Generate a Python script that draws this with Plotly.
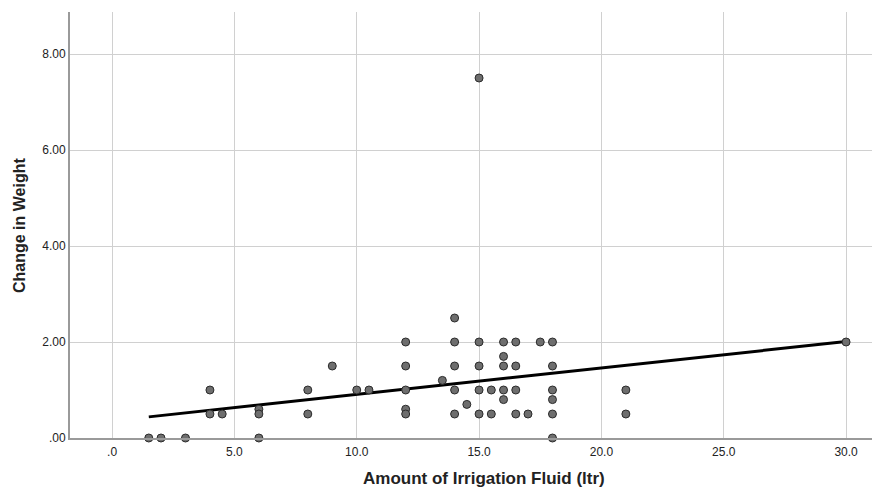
import plotly.graph_objects as go

# Scatter data: Amount of Irrigation Fluid (ltr) vs Change in Weight
fluid = [1.5, 2.0, 3.0, 4.0, 4.0, 4.5, 6.0, 6.0, 6.0, 8.0, 8.0,
         9.0, 10.0, 10.5, 12.0, 12.0, 12.0, 12.0, 12.0, 13.5,
         14.0, 14.0, 14.0, 14.0, 14.0, 14.5,
         15.0, 15.0, 15.0, 15.0, 15.0, 15.5, 15.5,
         16.0, 16.0, 16.0, 16.0, 16.0, 16.5, 16.5, 16.5, 16.5,
         17.0, 17.5, 18.0, 18.0, 18.0, 18.0, 18.0, 18.0,
         21.0, 21.0, 30.0]
weight = [0.0, 0.0, 0.0, 1.0, 0.5, 0.5, 0.6, 0.5, 0.0, 1.0, 0.5,
          1.5, 1.0, 1.0, 2.0, 1.5, 1.0, 0.6, 0.5, 1.2,
          2.5, 2.0, 1.5, 1.0, 0.5, 0.7,
          7.5, 2.0, 1.5, 1.0, 0.5, 1.0, 0.5,
          2.0, 1.7, 1.5, 1.0, 0.8, 2.0, 1.5, 1.0, 0.5,
          0.5, 2.0, 2.0, 1.5, 1.0, 0.8, 0.5, 0.0,
          1.0, 0.5, 2.0]

# Fit line endpoints
fit_x = [1.5, 30.0]
fit_y = [0.44, 2.01]

x_tickvals = [0, 5, 10, 15, 20, 25, 30]
x_ticktext = [".0", "5.0", "10.0", "15.0", "20.0", "25.0", "30.0"]
y_tickvals = [0, 2, 4, 6, 8]
y_ticktext = [".00", "2.00", "4.00", "6.00", "8.00"]

x_title = "Amount of Irrigation Fluid (ltr)"
y_title = "Change in Weight"

FONT = "Arial, Liberation Sans, sans-serif"

fig = go.Figure()
fig.add_trace(go.Scatter(
    x=fit_x, y=fit_y, mode="lines",
    line=dict(color="black", width=3),
    showlegend=False, hoverinfo="skip", cliponaxis=False))
fig.add_trace(go.Scatter(
    x=fluid, y=weight, mode="markers",
    marker=dict(size=8, color="#6e6e6e", line=dict(color="#2b2b2b", width=1)),
    showlegend=False, cliponaxis=False))

fig.update_layout(
    width=873, height=488,
    margin=dict(l=70, r=1, t=12, b=50),
    paper_bgcolor="white", plot_bgcolor="white",
    font=dict(family=FONT, size=12, color="#222222"),
    xaxis=dict(
        range=[-1.72, 31.06],
        tickvals=x_tickvals, ticktext=x_ticktext,
        showgrid=True, gridcolor="#d0d0d0", gridwidth=1,
        showline=True, linecolor="#9a9a9a", linewidth=2,
        zeroline=False, ticks="outside", ticklen=2, tickcolor="rgba(0,0,0,0)",
        tickfont=dict(size=12, family=FONT, color="#222222"),
    ),
    yaxis=dict(
        range=[0, 8.875],
        tickvals=y_tickvals, ticktext=y_ticktext,
        showgrid=True, gridcolor="#d0d0d0", gridwidth=1,
        showline=True, linecolor="#9a9a9a", linewidth=2,
        zeroline=False, ticks="", ticklen=0,
        tickfont=dict(size=12, family=FONT, color="#222222"),
    ),
    annotations=[
        dict(text="<b>" + x_title + "</b>", xref="paper", yref="paper",
             x=0.516, y=-0.094, xanchor="center", yanchor="middle",
             showarrow=False, font=dict(size=17, family=FONT, color="#222222")),
        dict(text="<b>" + y_title + "</b>", xref="paper", yref="paper",
             x=-0.0636, y=0.5, xanchor="center", yanchor="middle", textangle=-90,
             showarrow=False, font=dict(size=16, family=FONT, color="#222222")),
    ],
)

fig.write_html("out.html")
